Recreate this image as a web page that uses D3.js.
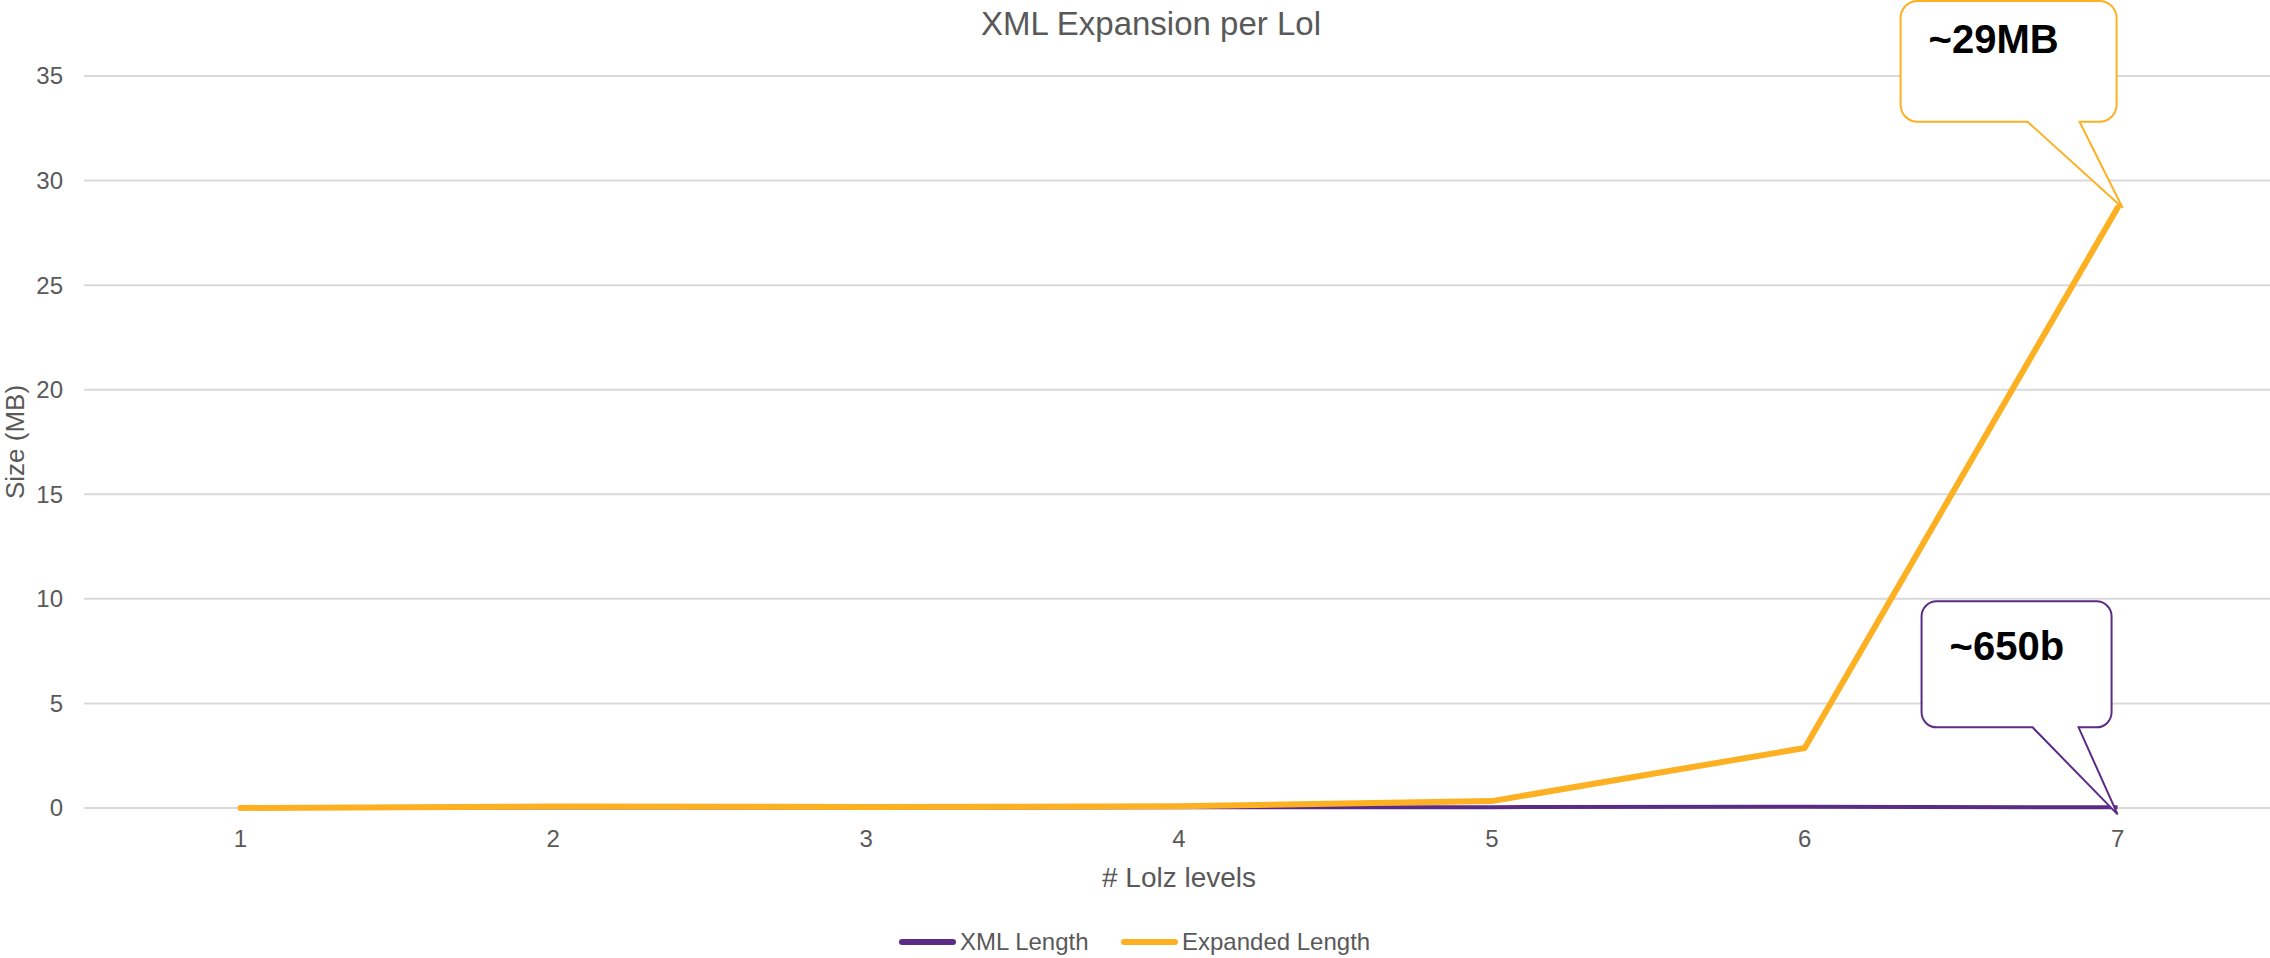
<!DOCTYPE html>
<head>
  <meta charset="utf-8">
  <title>XML Expansion per Lol</title>
  <style>
    body { margin: 0; background: #fff; }
    text { font-family: "Liberation Sans", Arial, sans-serif; fill: #595959; }
  </style>
</head>

<body>
  <script src="https://d3js.org/d3.v7.min.js"></script>
  <script>
  // chart data
  const levels = ["1", "2", "3", "4", "5", "6", "7"];
  const xmlLength = [0.01, 0.02, 0.02, 0.03, 0.04, 0.06, 0.03];
  const expandedLength = [0.003, 0.07, 0.05, 0.08, 0.33, 2.87, 28.7];
  const yTicks = [0, 5, 10, 15, 20, 25, 30, 35];
  const seriesNames = ["XML Length", "Expanded Length"];
  const colors = ["#5b2c86", "#fdb022"];

  const W = 2270, H = 958;

  const svg = d3.select("body").append("svg")
    .attr("width", W)
    .attr("height", H);

  const x = d3.scalePoint()
    .domain(levels)
    .range([84, 2274])
    .padding(0.5);

  const y = d3.scaleLinear()
    .domain([0, 35])
    .range([808, 76]);

  // gridlines
  svg.append("g")
    .selectAll("line")
    .data(yTicks)
    .enter()
    .append("line")
    .attr("x1", 84)
    .attr("x2", 2274)
    .attr("y1", d => y(d))
    .attr("y2", d => y(d))
    .attr("stroke", "#d9d9d9")
    .attr("stroke-width", 2);

  // y tick labels
  svg.append("g")
    .selectAll("text")
    .data(yTicks)
    .enter()
    .append("text")
    .attr("x", 63)
    .attr("y", d => y(d))
    .attr("dy", "0.35em")
    .attr("text-anchor", "end")
    .style("font-size", "24px")
    .text(d => d);

  // x tick labels
  svg.append("g")
    .selectAll("text")
    .data(levels)
    .enter()
    .append("text")
    .attr("x", d => x(d))
    .attr("y", 847)
    .attr("text-anchor", "middle")
    .style("font-size", "24px")
    .text(d => d);

  // title + axis titles
  svg.append("text")
    .attr("x", 1151).attr("y", 35)
    .attr("text-anchor", "middle")
    .style("font-size", "33px")
    .text("XML Expansion per Lol");

  svg.append("text")
    .attr("x", 1179).attr("y", 887)
    .attr("text-anchor", "middle")
    .style("font-size", "28px")
    .text("# Lolz levels");

  svg.append("text")
    .attr("transform", "translate(24,442) rotate(-90)")
    .attr("text-anchor", "middle")
    .style("font-size", "26px")
    .text("Size (MB)");

  // lines
  const line = d3.line()
    .x((d, i) => x(levels[i]))
    .y(d => y(d));

  svg.append("path")
    .datum(xmlLength)
    .attr("d", line)
    .attr("fill", "none")
    .attr("stroke", colors[0])
    .attr("stroke-width", 4)
    .attr("stroke-linejoin", "round");

  svg.append("path")
    .datum(expandedLength)
    .attr("d", line)
    .attr("fill", "none")
    .attr("stroke", colors[1])
    .attr("stroke-width", 6)
    .attr("stroke-linejoin", "round")
    .attr("stroke-linecap", "round");

  // speech-bubble callouts pointing at the last points
  function bubble(x0, y0, x1, y1, r, b0, b1, tx, ty) {
    return `M${x0 + r},${y0} H${x1 - r} A${r},${r} 0 0 1 ${x1},${y0 + r}` +
      ` V${y1 - r} A${r},${r} 0 0 1 ${x1 - r},${y1} H${b1} L${tx},${ty} L${b0},${y1}` +
      ` H${x0 + r} A${r},${r} 0 0 1 ${x0},${y1 - r} V${y0 + r} A${r},${r} 0 0 1 ${x0 + r},${y0} Z`;
  }

  const px = x("7");
  const pyE = y(expandedLength[6]);
  const pyX = y(xmlLength[6]);

  svg.append("path")
    .attr("d", bubble(px - 217, 1, px - 1, pyE - 86, 17, px - 90, px - 38, px + 5, pyE))
    .attr("fill", "#fff")
    .attr("stroke", colors[1])
    .attr("stroke-width", 2);

  svg.append("text")
    .attr("x", px - 189).attr("y", 53)
    .style("font-size", "40px")
    .style("font-weight", "bold")
    .style("fill", "#000")
    .text("~29MB");

  svg.append("path")
    .attr("d", bubble(px - 196, pyX - 206, px - 6, pyX - 80, 15, px - 85, px - 39, px, pyX + 7))
    .attr("fill", "#fff")
    .attr("stroke", colors[0])
    .attr("stroke-width", 2);

  svg.append("text")
    .attr("x", px - 168).attr("y", 660)
    .style("font-size", "40px")
    .style("font-weight", "bold")
    .style("fill", "#000")
    .text("~650b");

  // legend
  const legend = svg.append("g")
    .selectAll("g")
    .data(seriesNames)
    .enter()
    .append("g")
    .attr("transform", (d, i) => `translate(${[900, 1122][i]},942)`);

  legend.append("line")
    .attr("x1", 2).attr("x2", 53)
    .attr("stroke", (d, i) => colors[i])
    .attr("stroke-width", 6)
    .attr("stroke-linecap", "round");

  legend.append("text")
    .attr("x", 60)
    .attr("dy", "0.35em")
    .style("font-size", "24px")
    .text(d => d);
  </script>
</body>
</html>
